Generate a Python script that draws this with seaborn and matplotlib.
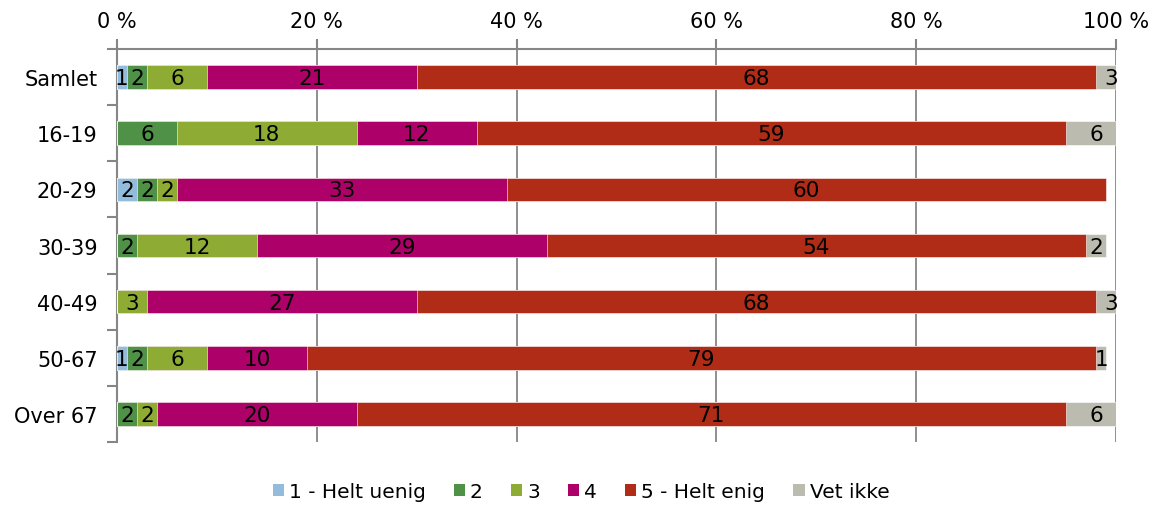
import matplotlib
matplotlib.use("Agg")
import matplotlib.pyplot as plt
from matplotlib.patches import Patch
import numpy as np
import pandas as pd
import seaborn as sns

# data (percent)
groups = ["Samlet", "16-19", "20-29", "30-39", "40-49", "50-67", "Over 67"]
series = ["1 - Helt uenig", "2", "3", "4", "5 - Helt enig", "Vet ikke"]
helt_uenig = [1, 0, 2, 0, 0, 1, 0]
to = [2, 6, 2, 2, 0, 2, 2]
tre = [6, 18, 2, 12, 3, 6, 2]
fire = [21, 12, 33, 29, 27, 10, 20]
helt_enig = [68, 59, 60, 54, 68, 79, 71]
vet_ikke = [3, 6, 0, 2, 3, 1, 6]
colors = ["#93bcdc", "#4f9146", "#8eab33", "#ad0068", "#b02c17", "#bbbbb0"]

vals = np.array([helt_uenig, to, tre, fire, helt_enig, vet_ikke], dtype=float)
cum = vals.cumsum(axis=0)

sns.set_theme(style="white")
plt.rcParams["font.family"] = ["DejaVu Sans"]
plt.rcParams["text.color"] = "black"

fig = plt.figure(figsize=(11.62, 5.06), dpi=100)
ax = fig.add_axes([117 / 1162, 1 - 443 / 506, (1116 - 117) / 1162, (443 - 50) / 506])

# stacked bars: draw cumulative totals from the outermost series inward
for i in range(len(series) - 1, -1, -1):
    df = pd.DataFrame({"group": groups, "x": cum[i]})
    sns.barplot(data=df, x="x", y="group", orient="h", color=colors[i],
                saturation=1, width=0.42, ax=ax, zorder=3,
                edgecolor="white", linewidth=0.4)

# segment labels
for i in range(len(series)):
    for j, g in enumerate(groups):
        v = vals[i, j]
        if v > 0:
            ax.text(cum[i, j] - v / 2, j + 0.02, f"{int(v)}", ha="center", va="center",
                    fontsize=15.5, color="black", zorder=4)

ax.set_xlim(0, 100)
ax.set_ylim(6.5, -0.5)
ax.set_xlabel("")
ax.set_ylabel("")
ax.xaxis.tick_top()
ax.set_xticks([0, 20, 40, 60, 80, 100])
ax.set_xticklabels([f"{t} %" for t in [0, 20, 40, 60, 80, 100]])
ax.tick_params(axis="x", which="major", top=True, length=7, width=1.5,
               color="#868686", labelsize=15, labelcolor="black", pad=6)
ax.tick_params(axis="y", which="major", length=0, labelsize=15,
               labelcolor="black", pad=14)
ax.set_yticks(np.arange(-0.5, 7, 1), minor=True)
ax.tick_params(axis="y", which="minor", left=True, length=7, width=1.5, color="#868686")
ax.grid(axis="x", color="#868686", linewidth=1.3, zorder=0)
ax.set_axisbelow(True)

for side in ["right", "bottom"]:
    ax.spines[side].set_visible(False)
for side in ["top", "left"]:
    ax.spines[side].set_color("#868686")
    ax.spines[side].set_linewidth(1.5)

handles = [Patch(facecolor=c, edgecolor="none") for c in colors]
fig.legend(handles, series, loc="center", bbox_to_anchor=(0.5, 1 - 493 / 506),
           ncol=6, frameon=False, fontsize=14.5, handlelength=0.55, handleheight=0.55,
           handletextpad=0.25, columnspacing=1.4, labelcolor="black")

fig.savefig("out.png", dpi=100)
